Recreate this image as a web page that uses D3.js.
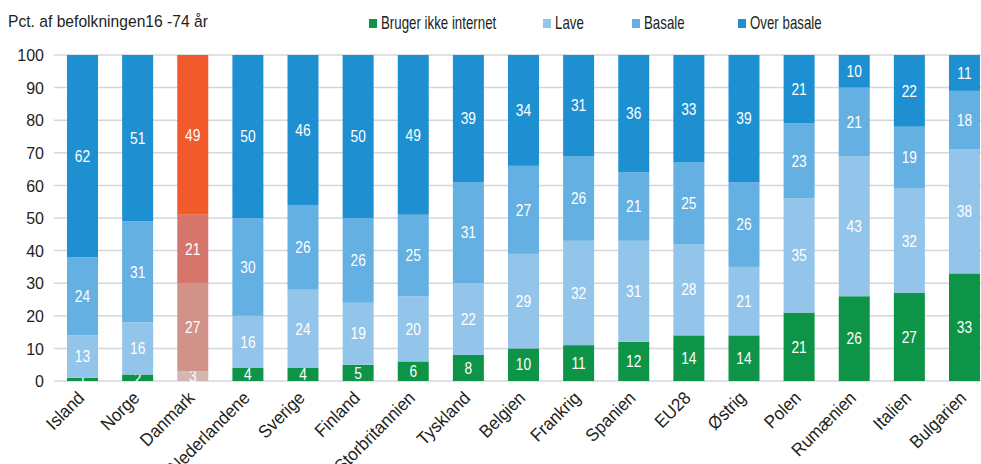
<!DOCTYPE html>
<html>
<head>
<meta charset="utf-8">
<script src="https://cdn.jsdelivr.net/npm/d3@7"></script>
<style>
  body { margin: 0; background: #fff; }
  svg text { font-family: "Liberation Sans", Arial, sans-serif; fill: #231f20; }
</style>
</head>
<body>
<svg width="981" height="464"></svg>
<script>
var countries = ["Island", "Norge", "Danmark", "Nederlandene", "Sverige", "Finland", "Storbritannien",
    "Tyskland", "Belgien", "Frankrig", "Spanien", "EU28", "Østrig", "Polen", "Rumænien", "Italien", "Bulgarien"];
var seriesNames = ["Bruger ikke internet", "Lave", "Basale", "Over basale"];
var ikkeInternet = [1, 2, 3, 4, 4, 5, 6, 8, 10, 11, 12, 14, 14, 21, 26, 27, 33];
var lave = [13, 16, 27, 16, 24, 19, 20, 22, 29, 32, 31, 28, 21, 35, 43, 32, 38];
var basale = [24, 31, 21, 30, 26, 26, 25, 31, 27, 26, 21, 25, 26, 23, 21, 19, 18];
var overBasale = [62, 51, 49, 50, 46, 50, 49, 39, 34, 31, 36, 33, 39, 21, 10, 22, 11];
var yTicks = [0, 10, 20, 30, 40, 50, 60, 70, 80, 90, 100];

var colors = ["#0e9447", "#93c5ea", "#64b0e2", "#1e90d2"];
var dkColors = ["#d4b6b2", "#d1928a", "#d6756b", "#f15a2b"];

var svg = d3.select("svg");

// build rows for stacking
var rows = countries.map(function(c, i) {
    return { land: c, s0: ikkeInternet[i], s1: lave[i], s2: basale[i], s3: overBasale[i] };
});
var series = d3.stack().keys(["s0", "s1", "s2", "s3"])(rows);

var x = d3.scaleBand().domain(countries).range([55, 992]).paddingInner(0.4376).paddingOuter(0.218);
var y = d3.scaleLinear().domain([0, 100]).range([381, 55]);

// gridlines
svg.append("g").selectAll("line")
    .data(yTicks)
    .enter().append("line")
    .attr("x1", 54).attr("x2", 981)
    .attr("y1", function(d) { return y(d); })
    .attr("y2", function(d) { return y(d); })
    .attr("stroke", "#d3d7dc")
    .attr("stroke-width", 1.5);

// y axis labels
var yAxis = svg.append("g")
    .attr("transform", "translate(44,0)")
    .call(d3.axisLeft(y).tickValues(yTicks).tickSize(0).tickPadding(0));
yAxis.select(".domain").remove();
yAxis.selectAll("text")
    .attr("font-size", 16)
    .attr("font-family", null)
    .attr("fill", null)
    .attr("dy", "0.36em");

// bars
var layer = svg.append("g").selectAll("g")
    .data(series)
    .enter().append("g");

function cells(s) { return s.map(function(d) { return { k: s.index, d: d }; }); }

layer.selectAll("rect")
    .data(cells)
    .enter().append("rect")
    .attr("x", function(e) { return x(e.d.data.land); })
    .attr("width", x.bandwidth())
    .attr("y", function(e) { return y(e.d[1]); })
    .attr("height", function(e) { return y(e.d[0]) - y(e.d[1]); })
    .attr("fill", function(e) { return e.d.data.land === "Danmark" ? dkColors[e.k] : colors[e.k]; });

layer.selectAll("text")
    .data(cells)
    .enter().append("text")
    .attr("transform", function(e) {
        var cx = x(e.d.data.land) + x.bandwidth() / 2,
            cy = y((e.d[0] + e.d[1]) / 2);
        return "translate(" + cx + "," + cy + ") scale(0.86,1)";
    })
    .attr("dy", "0.36em")
    .attr("text-anchor", "middle")
    .attr("font-size", 16)
    .style("fill", "#fff")
    .text(function(e) { return e.d[1] - e.d[0]; });

// x labels
var xAxis = svg.append("g")
    .attr("transform", "translate(0,381)")
    .call(d3.axisBottom(x).tickSize(0).tickPadding(0));
xAxis.select(".domain").remove();
xAxis.selectAll("text")
    .attr("font-size", 18)
    .attr("font-family", null)
    .attr("fill", null)
    .attr("text-anchor", "end")
    .attr("dy", null)
    .attr("y", 0)
    .attr("transform", "translate(3,18) rotate(-45) scale(0.94,1)");

// title
svg.append("text")
    .attr("transform", "translate(8,27) scale(0.92,1)")
    .attr("font-size", 17)
    .text("Pct. af befolkningen16 -74 år");

// legend
var legendX = [369, 543, 632, 738];
var legend = svg.append("g").selectAll("g")
    .data(seriesNames)
    .enter().append("g")
    .attr("transform", function(d, i) { return "translate(" + legendX[i] + ",0)"; });
legend.append("rect")
    .attr("x", 0).attr("y", 19).attr("width", 8).attr("height", 9)
    .attr("fill", function(d, i) { return colors[i]; });
legend.append("text")
    .attr("transform", "translate(12,29) scale(0.76,1)")
    .attr("font-size", 17.5)
    .text(function(d) { return d; });
</script>
</body>
</html>
